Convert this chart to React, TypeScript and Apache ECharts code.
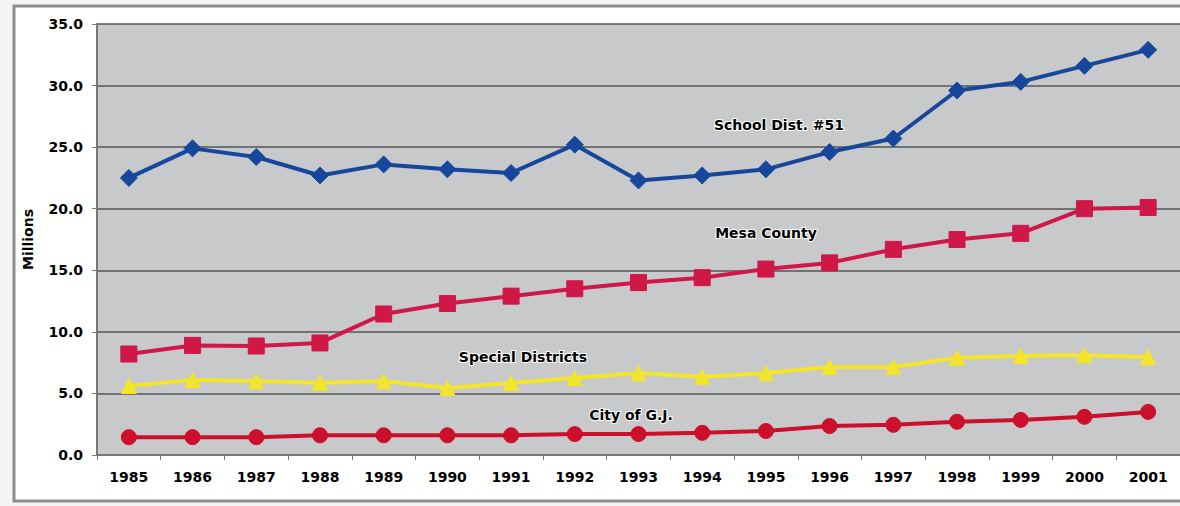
import React, { useEffect, useRef } from "react";
import * as echarts from "echarts";

const years = ["1985","1986","1987","1988","1989","1990","1991","1992","1993","1994","1995","1996","1997","1998","1999","2000","2001"];
const schoolDist = [22.5, 24.9, 24.2, 22.7, 23.6, 23.2, 22.9, 25.2, 22.3, 22.7, 23.2, 24.6, 25.7, 29.6, 30.3, 31.6, 32.9];
const mesaCounty = [8.2, 8.9, 8.85, 9.1, 11.45, 12.3, 12.9, 13.5, 14.0, 14.4, 15.1, 15.6, 16.7, 17.5, 18.0, 20.0, 20.1];
const specialDistricts = [5.6, 6.1, 6.0, 5.85, 6.0, 5.45, 5.85, 6.25, 6.65, 6.35, 6.65, 7.15, 7.15, 7.9, 8.05, 8.1, 7.95];
const cityGJ = [1.45, 1.45, 1.45, 1.6, 1.6, 1.6, 1.6, 1.7, 1.7, 1.8, 1.95, 2.35, 2.45, 2.7, 2.85, 3.1, 3.5];

const FONT = "'DejaVu Sans', 'Liberation Sans', Arial, sans-serif";

export default function App() {
  const ref = useRef<HTMLDivElement>(null);
  useEffect(() => {
    document.body.style.margin = "0";
    const chart = echarts.init(ref.current!, null, { renderer: "svg" });
    const lineSeries = (name: string, data: number[], color: string, symbol: string, size: number) => ({
      name,
      type: "line",
      data,
      symbol,
      symbolSize: size,
      lineStyle: { color, width: 4 },
      itemStyle: { color, borderColor: color },
      z: 3,
    });
    const labelText = (text: string, x: number, y: number) => ({
      type: "text",
      x,
      y,
      z: 100,
      style: {
        text,
        fill: "#000",
        font: `bold 14px ${FONT}`,
        textAlign: "center",
        textVerticalAlign: "middle",
        stroke: "#ffffff",
        lineWidth: 2,
      },
    });
    chart.setOption({
      animation: false,
      backgroundColor: "#f4f4f4",
      textStyle: { fontFamily: FONT },
      graphic: [
        {
          type: "rect",
          z: -10,
          silent: true,
          shape: { x: 14, y: 6, width: 1180, height: 495 },
          style: { fill: "#ffffff", stroke: "#8e8e8e", lineWidth: 3 },
        },
        labelText("School Dist. #51", 779, 125),
        labelText("Mesa County", 766, 233),
        labelText("Special Districts", 523, 357),
        labelText("City of G.J.", 631, 415),
      ],
      grid: {
        left: 97,
        top: 24,
        width: 1088,
        height: 431,
        show: true,
        backgroundColor: "#c8c9cb",
        borderWidth: 0,
      },
      xAxis: {
        type: "category",
        data: years,
        boundaryGap: true,
        axisLine: { show: true, lineStyle: { color: "#777", width: 2 } },
        axisTick: { show: true, length: 5, interval: 0, lineStyle: { color: "#777" } },
        axisLabel: {
          color: "#000",
          fontWeight: "bold",
          fontSize: 14,
          fontFamily: FONT,
          margin: 15,
          interval: 0,
        },
      },
      yAxis: {
        type: "value",
        min: 0,
        max: 35,
        interval: 5,
        name: "Millions",
        nameLocation: "middle",
        nameGap: 62,
        nameRotate: 90,
        nameTextStyle: { color: "#000", fontWeight: "bold", fontSize: 14, fontFamily: FONT },
        axisLine: { show: true, lineStyle: { color: "#777", width: 2 } },
        axisTick: { show: true, length: 5, lineStyle: { color: "#777" } },
        axisLabel: {
          color: "#000",
          fontWeight: "bold",
          fontSize: 14,
          fontFamily: FONT,
          margin: 14,
          formatter: (v: number) => v.toFixed(1),
        },
        splitLine: { show: true, lineStyle: { color: "#555", width: 1.5 } },
      },
      series: [
        lineSeries("School Dist. #51", schoolDist, "#17479c", "diamond", 17),
        lineSeries("Mesa County", mesaCounty, "#cf1748", "rect", 16),
        lineSeries("Special Districts", specialDistricts, "#f3e52a", "triangle", 15),
        lineSeries("City of G.J.", cityGJ, "#cc0f2a", "circle", 15),
      ],
    });
    return () => chart.dispose();
  }, []);
  return <div ref={ref} style={{ width: 1180, height: 506 }} />;
}
